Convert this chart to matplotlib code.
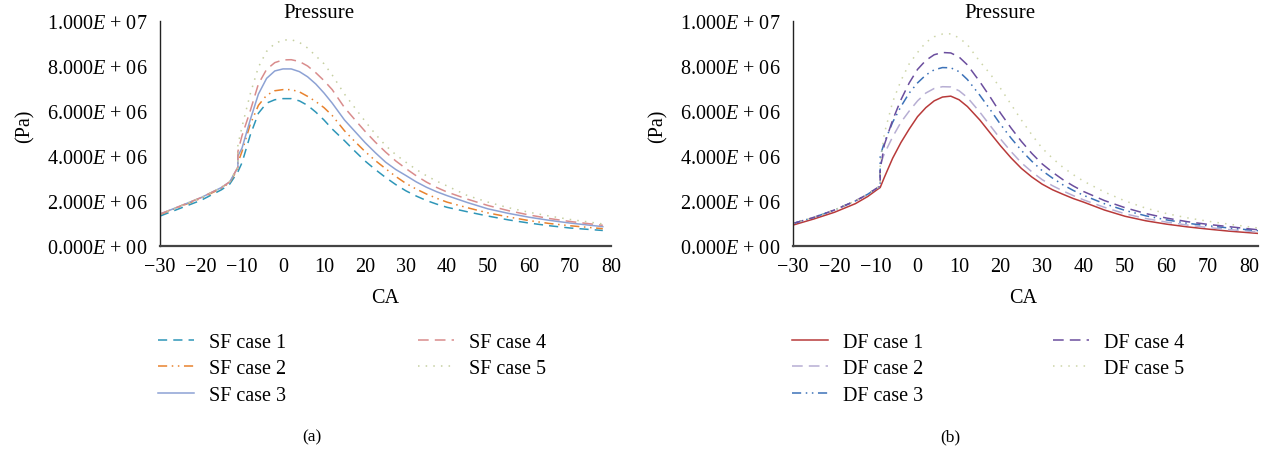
import matplotlib
matplotlib.use("Agg")
import matplotlib.pyplot as plt

plt.rcParams['font.family'] = ['Liberation Serif', 'DejaVu Serif']
plt.rcParams['mathtext.fontset'] = 'custom'
plt.rcParams['mathtext.rm'] = 'Liberation Serif'
plt.rcParams['mathtext.it'] = 'Liberation Serif:italic'
plt.rcParams['axes.unicode_minus'] = True

# ---------------- data (pressure in 1e6 Pa) ----------------
ca_sf = [-30, -25, -20, -15, -13, -11, -11, -10, -8, -6, -4, -2, 0, 2, 4, 6, 8, 10, 12, 15, 17.5,
         20, 22.5, 25, 27.5, 30, 32.5, 35, 37.5, 40, 45, 50, 55, 60, 65, 70, 78]
sf_case1 = [1.33, 1.68, 2.03, 2.5, 2.75, 3.3, 3.3, 3.7, 4.92, 5.9, 6.35, 6.5, 6.55, 6.55, 6.45, 6.25, 5.95, 5.6, 5.2, 4.68, 4.22,
            3.78, 3.4, 3.05, 2.73, 2.45, 2.22, 2.02, 1.86, 1.72, 1.52, 1.33, 1.16, 1.02, 0.9, 0.8, 0.69]
sf_case2 = [1.4, 1.76, 2.12, 2.57, 2.82, 3.45, 3.7, 4.2, 5.4, 6.25, 6.7, 6.9, 6.95, 6.95, 6.85, 6.65, 6.42, 6.15, 5.8, 5.12, 4.65,
            4.2, 3.8, 3.44, 3.09, 2.78, 2.53, 2.31, 2.12, 1.95, 1.7, 1.47, 1.29, 1.13, 1.0, 0.9, 0.77]
sf_case3 = [1.42, 1.78, 2.15, 2.6, 2.85, 3.5, 4.0, 4.35, 5.6, 6.75, 7.45, 7.78, 7.87, 7.87, 7.75, 7.52, 7.2, 6.8, 6.35, 5.6, 5.1,
            4.6, 4.15, 3.73, 3.4, 3.13, 2.85, 2.61, 2.41, 2.24, 1.93, 1.65, 1.45, 1.28, 1.14, 1.02, 0.86]
sf_case4 = [1.42, 1.78, 2.15, 2.6, 2.85, 3.5, 4.2, 4.9, 6.0, 7.2, 7.85, 8.15, 8.27, 8.28, 8.2, 8.0, 7.7, 7.35, 6.95, 6.15, 5.62,
            5.1, 4.62, 4.18, 3.78, 3.44, 3.12, 2.84, 2.6, 2.4, 2.08, 1.8, 1.57, 1.38, 1.22, 1.09, 0.92]
sf_case5 = [1.42, 1.78, 2.15, 2.6, 2.85, 3.5, 4.5, 5.3, 6.75, 7.95, 8.65, 9.0, 9.15, 9.17, 9.05, 8.8, 8.45, 8.1, 7.6, 6.75, 6.15,
            5.55, 4.98, 4.47, 4.06, 3.72, 3.4, 3.12, 2.88, 2.67, 2.24, 1.95, 1.7, 1.5, 1.33, 1.18, 0.98]

ca_df = [-30, -25, -20, -15, -12, -10, -9, -9, -8, -6, -4, -2, 0, 2, 4, 6, 8, 10, 12, 15, 17.5,
         20, 22.5, 25, 27.5, 30, 32.5, 35, 37.5, 40, 45, 50, 55, 60, 65, 70, 75, 82]
df_case1 = [0.93, 1.2, 1.5, 1.88, 2.2, 2.47, 2.6, 2.6, 3.05, 3.9, 4.6, 5.2, 5.75, 6.15, 6.45, 6.62, 6.66, 6.5, 6.2, 5.6, 5.02,
            4.45, 3.92, 3.45, 3.07, 2.75, 2.5, 2.3, 2.11, 1.95, 1.6, 1.32, 1.12, 0.97, 0.85, 0.75, 0.66, 0.56]
df_case2 = [1.0, 1.27, 1.6, 2.0, 2.3, 2.55, 2.65, 3.6, 4.1, 4.85, 5.5, 6.0, 6.45, 6.8, 7.0, 7.08, 7.07, 6.9, 6.6, 5.95, 5.35,
            4.75, 4.2, 3.7, 3.3, 2.95, 2.68, 2.45, 2.24, 2.05, 1.72, 1.43, 1.22, 1.06, 0.93, 0.82, 0.73, 0.62]
df_case3 = [1.0, 1.27, 1.6, 2.0, 2.3, 2.55, 2.65, 4.0, 4.6, 5.5, 6.2, 6.8, 7.25, 7.6, 7.83, 7.93, 7.92, 7.75, 7.4, 6.7, 6.06,
            5.4, 4.8, 4.25, 3.77, 3.35, 3.02, 2.72, 2.47, 2.25, 1.88, 1.58, 1.34, 1.16, 1.01, 0.9, 0.8, 0.68]
df_case4 = [1.0, 1.27, 1.6, 2.0, 2.3, 2.55, 2.65, 3.4, 4.5, 5.6, 6.5, 7.25, 7.85, 8.25, 8.5, 8.6, 8.58, 8.4, 8.05, 7.3, 6.62,
            5.9, 5.25, 4.65, 4.12, 3.65, 3.28, 2.95, 2.67, 2.42, 2.02, 1.7, 1.44, 1.24, 1.08, 0.96, 0.86, 0.72]
df_case5 = [1.0, 1.27, 1.6, 2.0, 2.3, 2.55, 2.65, 3.6, 5.0, 6.4, 7.35, 8.1, 8.6, 9.05, 9.3, 9.42, 9.43, 9.25, 8.95, 8.2, 7.65,
            7.0, 6.3, 5.6, 4.95, 4.35, 3.9, 3.5, 3.17, 2.88, 2.4, 2.0, 1.68, 1.44, 1.25, 1.1, 0.97, 0.8]

sf_labels = ['SF case 1', 'SF case 2', 'SF case 3', 'SF case 4', 'SF case 5']
df_labels = ['DF case 1', 'DF case 2', 'DF case 3', 'DF case 4', 'DF case 5']
y_ticks = [0, 2e6, 4e6, 6e6, 8e6, 1e7]
y_tick_labels = [r'0.000$E$ + 00', r'2.000$E$ + 06', r'4.000$E$ + 06',
                 r'6.000$E$ + 06', r'8.000$E$ + 06', r'1.000$E$ + 07']
x_ticks = [-30, -20, -10, 0, 10, 20, 30, 40, 50, 60, 70, 80]

# ---------------- styles ----------------
sf_styles = [
    dict(color='#2E96B8', dashes=(6, 4)),
    dict(color='#E8822E', dashes=(6, 3, 1, 3, 1, 3)),
    dict(color='#8DA2D4', linestyle='-'),
    dict(color='#D98C8C', dashes=(7, 4)),
    dict(color='#C5CFA0', dashes=(1, 4)),
]
df_styles = [
    dict(color='#B83A3A', linestyle='-'),
    dict(color='#B7AED3', dashes=(7, 4)),
    dict(color='#3C72B8', dashes=(6, 3, 1, 3, 1, 3)),
    dict(color='#6B4E9E', dashes=(7, 4)),
    dict(color='#CDD5A8', dashes=(1, 4)),
]

W, H = 1271, 452
fig = plt.figure(figsize=(W / 100, H / 100), dpi=100)

def fx(px):
    return px / W

def fy(py):
    return 1 - py / H

FS = 14.5

def make_panel(left, right, xs, series, labels, styles, xmax, title_x, ylabel_x, ca_x,
               leg_x, colspace, tag, tag_x):
    ax = fig.add_axes([fx(left), fy(247), fx(right - left), (247 - 22) / H])
    for ys, lab, st in zip(series, labels, styles):
        ax.plot(xs, [v * 1e6 for v in ys], lw=1.1, label=lab, **st)
    ax.set_xlim(-30, xmax)
    ax.set_ylim(0, 1e7)
    ax.set_yticks(y_ticks)
    ax.set_yticklabels(y_tick_labels)
    ax.set_xticks(x_ticks)
    ax.tick_params(length=0, labelsize=FS, pad=9)
    ax.tick_params(axis='x', pad=8)
    for s in ['top', 'right']:
        ax.spines[s].set_visible(False)
    ax.spines['left'].set_color('#222222')
    ax.spines['left'].set_linewidth(1.0)
    ax.spines['bottom'].set_color('#444444')
    ax.spines['bottom'].set_linewidth(1.6)
    fig.text(fx(title_x), fy(13), 'Pressure', ha='center', va='center', fontsize=15)
    fig.text(fx(ylabel_x), fy(126), '(Pa)', ha='center', va='center', fontsize=FS, rotation=90)
    fig.text(fx(ca_x), fy(299), 'CA', ha='center', va='center', fontsize=FS)
    fig.text(fx(tag_x), fy(437), tag, ha='center', va='center', fontsize=12.5)
    h, l = ax.get_legend_handles_labels()
    fig.legend(h, l, loc='upper left', bbox_to_anchor=(fx(leg_x), fy(334)), ncol=2,
               frameon=False, fontsize=FS, handlelength=1.8, handletextpad=0.72,
               columnspacing=colspace, labelspacing=0.36, borderpad=0, borderaxespad=0)
    return ax

make_panel(160, 611, ca_sf, [sf_case1, sf_case2, sf_case3, sf_case4, sf_case5], sf_labels, sf_styles,
           80, 319, 25, 385, 158, 6.55, '(a)', 312)
make_panel(793, 1258, ca_df, [df_case1, df_case2, df_case3, df_case4, df_case5], df_labels, df_styles,
           82, 1000, 658, 1023, 792, 6.45, '(b)', 950)

fig.savefig('out.png', dpi=100)
